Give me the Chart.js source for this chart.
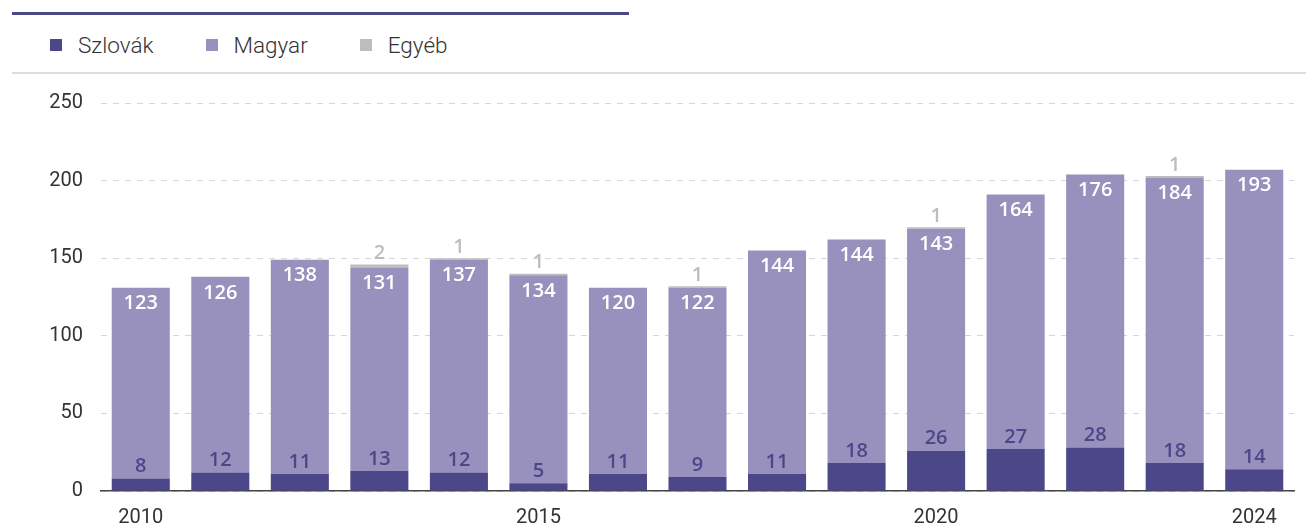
<!DOCTYPE html>
<html>
<head>
<meta charset="utf-8">
<script src="https://cdn.jsdelivr.net/npm/chart.js@4/dist/chart.umd.min.js"></script>
<style>
  html, body { margin: 0; padding: 0; background: #fff; }
  #wrap { position: relative; width: 1306px; height: 527px; overflow: hidden; }
  .topline { position: absolute; left: 12px; top: 12px; width: 617px; height: 3px; background: #4b4789; }
  .sepline { position: absolute; left: 12px; top: 72px; width: 1294px; height: 2px; background: #dcdcdc; }
  .legend { position: absolute; left: 50px; top: 30px; font-family: Roboto, sans-serif; font-weight: 300; font-size: 22.5px; color: #333; }
  .legend span { display: inline-block; vertical-align: middle; }
  .legend .sw { width: 12px; height: 12px; margin-right: 16px; }
  .legend .lb { margin-right: 52px; }
  #chart { position: absolute; left: 0; top: 0; }
</style>
</head>
<body>
<div id="wrap">
  <div class="topline"></div>
  <div class="legend" id="legend"></div>
  <div class="sepline"></div>
  <canvas id="chart" width="1306" height="527"></canvas>
</div>
<script>
// Adatok
const years = ['2010', '2011', '2012', '2013', '2014', '2015', '2016', '2017', '2018', '2019', '2020', '2021', '2022', '2023', '2024'];
const szlovak = [8, 12, 11, 13, 12, 5, 11, 9, 11, 18, 26, 27, 28, 18, 14];
const magyar = [123, 126, 138, 131, 137, 134, 120, 122, 144, 144, 143, 164, 176, 184, 193];
const egyeb = [0, 0, 0, 2, 1, 1, 0, 1, 0, 0, 1, 0, 0, 1, 0];
const shownYears = ['2010', '2015', '2020', '2024'];
const yTicks = [0, 50, 100, 150, 200, 250];

const colors = ['#4b4789', '#9891bd', '#bdbdbf'];
const names = ['Szlovák', 'Magyar', 'Egyéb'];

// Jelmagyarázat
const legend = document.getElementById('legend');
names.forEach(function(n, i) {
  legend.innerHTML += '<span class="sw" style="background:' + colors[i] + '"></span><span class="lb">' + n + '</span>';
});

// Címkék a sávokon
const barLabels = {
  id: 'barLabels',
  afterDatasetsDraw(chart) {
    const ctx = chart.ctx;
    ctx.save();
    ctx.font = '600 20px "Open Sans", sans-serif';
    ctx.textAlign = 'center';
    chart.data.datasets.forEach(function(ds, di) {
      const meta = chart.getDatasetMeta(di);
      meta.data.forEach(function(bar, i) {
        const v = ds.data[i];
        if (!v) return;
        if (di === 0) {
          ctx.fillStyle = '#4b4789';
          ctx.textBaseline = 'bottom';
          ctx.fillText(v, bar.x, bar.y - 2);
        } else if (di === 1) {
          ctx.fillStyle = '#ffffff';
          ctx.textBaseline = 'top';
          ctx.fillText(v, bar.x, bar.y + 6);
        } else {
          ctx.fillStyle = '#bdbdbf';
          ctx.textBaseline = 'bottom';
          ctx.fillText(v, bar.x, bar.y - 1);
        }
      });
    });
    ctx.restore();
  }
};

const ctx = document.getElementById('chart').getContext('2d');
new Chart(ctx, {
  type: 'bar',
  data: {
    labels: years,
    datasets: [
      { label: names[0], data: szlovak, backgroundColor: colors[0] },
      { label: names[1], data: magyar, backgroundColor: colors[1] },
      { label: names[2], data: egyeb, backgroundColor: colors[2] }
    ]
  },
  options: {
    responsive: false,
    animation: false,
    barPercentage: 0.73,
    categoryPercentage: 1,
    layout: { padding: { top: 103, right: 12, left: 0, bottom: 0 } },
    plugins: {
      legend: { display: false },
      tooltip: { enabled: false }
    },
    scales: {
      x: {
        stacked: true,
        grid: { display: false, drawTicks: false },
        border: { display: true, color: '#444', width: 1.5 },
        afterFit: function(scale) { scale.height = 36; },
        ticks: {
          autoSkip: false,
          maxRotation: 0,
          padding: 15,
          color: '#333',
          font: { family: 'Roboto, sans-serif', size: 20 },
          callback: function(value) {
            const lab = this.getLabelForValue(value);
            return shownYears.includes(lab) ? lab : '';
          }
        }
      },
      y: {
        stacked: true,
        min: 0,
        max: 250,
        afterBuildTicks: function(scale) {
          scale.ticks = yTicks.map(function(v) { return { value: v }; });
        },
        afterFit: function(scale) { scale.width = 101; },
        grid: { color: '#d6d6d6', lineWidth: 1, drawTicks: false },
        border: { display: false, dash: [6, 6] },
        ticks: {
          padding: 18,
          color: '#333',
          font: { family: 'Roboto, sans-serif', size: 20 }
        }
      }
    }
  },
  plugins: [barLabels]
});
</script>
</body>
</html>
